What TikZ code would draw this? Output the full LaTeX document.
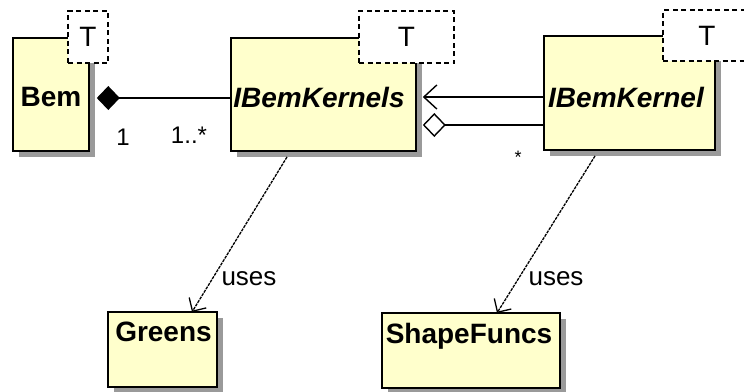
\documentclass[tikz,border=0pt]{standalone}
\usepackage{fontspec}
\setmainfont{Liberation Sans}
\usetikzlibrary{arrows.meta,shadows,calc}
\definecolor{classfill}{HTML}{FFFFCC}
\definecolor{shadowgray}{HTML}{9A9A9A}
\tikzset{
  classbox/.style={draw=black, line width=1.6pt, fill=classfill, inner sep=0pt,
    drop shadow={shadow xshift=6pt, shadow yshift=-6pt, fill=shadowgray, opacity=1}},
  tparam/.style={draw=black, line width=1.4pt, dash pattern=on 5pt off 3.5pt, fill=white, inner sep=0pt},
  ctitle/.style={font=\fontsize{28}{30}\selectfont\bfseries, inner sep=0pt},
  ititle/.style={font=\fontsize{28}{30}\selectfont\bfseries\itshape, inner sep=0pt},
  ttext/.style={font=\fontsize{28}{30}\selectfont, inner sep=0pt},
  mult/.style={font=\fontsize{24}{26}\selectfont, inner sep=0pt},
  smallmult/.style={font=\fontsize{18}{20}\selectfont, inner sep=0pt},
  usestext/.style={font=\fontsize{26}{28}\selectfont, inner sep=0pt},
  conn/.style={line width=1.4pt},
  usesline/.style={line width=1.3pt, dash pattern=on 3pt off 1pt, -{Straight Barb[length=10pt,width=20pt,line width=1.3pt]}}
}
\begin{document}
\begin{tikzpicture}[x=1pt,y=-1pt]
\useasboundingbox (0,0) rectangle (744,391);
% class boxes
\node[classbox, minimum width=76pt, minimum height=113pt] (bem) at (51,94.5) {};
\node[tparam, minimum width=40pt, minimum height=52pt] (bemT) at (88,37) {};
\node[ttext] (bemTt) at (88,37) {T};
\node[ctitle] (bemt) at (51,97) {Bem};

\node[classbox, minimum width=185pt, minimum height=113pt] (kernels) at (323.5,94.5) {};
\node[tparam, minimum width=95pt, minimum height=52pt] (kernelsT) at (406.5,37) {};
\node[ttext] (kernelsTt) at (406.5,37) {T};
\node[ititle] (kernelst) at (319,97) {IBemKernels};

\node[classbox, minimum width=171pt, minimum height=114pt] (kernel) at (629.5,93) {};
\node[tparam, minimum width=88pt, minimum height=51pt] (kernelT) at (707,35.5) {};
\node[ttext] (kernelTt) at (707,35.5) {T};
\node[ititle] (kernelt) at (626,97) {IBemKernel};

\node[classbox, minimum width=109pt, minimum height=75pt] (greens) at (162.5,349.5) {};
\node[ctitle, anchor=north] (greenst) at (163.5,322) {Greens};

\node[classbox, minimum width=178pt, minimum height=75pt] (shape) at (471,350.5) {};
\node[ctitle, anchor=north] (shapet) at (469,323) {ShapeFuncs};

% composition Bem -- IBemKernels
\draw[conn, {Diamond[length=23pt,width=24pt]}-, shorten <=7pt]
  ([yshift=-3.5pt]bem.east) -- ([yshift=-3.5pt]kernels.west);
\node[mult] (m1) at (123,137) {1};
\node[mult] (m2) at (189,135) {1..*};

% IBemKernel -> IBemKernels
\draw[conn, -{Straight Barb[length=13pt,width=24pt,line width=1.4pt]}, shorten >=6pt]
  ([yshift=-4pt]kernel.west) -- ([yshift=-2.5pt]kernels.east);
\draw[conn, {Diamond[open,length=23pt,width=24pt,line width=1.4pt]}-, shorten <=6pt]
  ([yshift=-30.5pt]kernels.east) -- ([yshift=-32pt]kernel.west);
\node[smallmult] (m3) at (518,157) {*};

% uses dependencies
\coordinate (u1s) at (287,157);
\coordinate (u2s) at (595,156);
\draw[usesline] (u1s) -- (192,312) coordinate (u1e);
\draw[usesline] (u2s) -- (497,313) coordinate (u2e);
\node[usestext] (uses1) at (249,279) {uses};
\node[usestext] (uses2) at (556,279) {uses};
\end{tikzpicture}
\end{document}
